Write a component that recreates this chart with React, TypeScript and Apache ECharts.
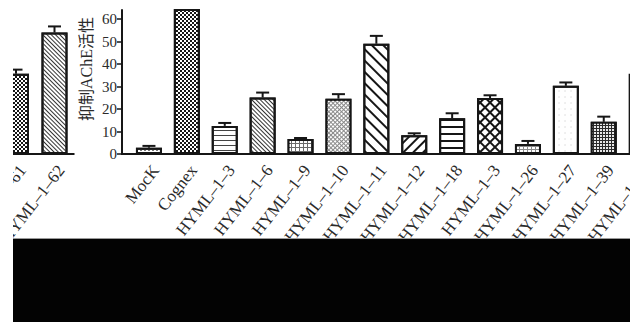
import React, { useEffect, useRef } from "react";
import * as echarts from "echarts";

// ---- data ----
const categories = [
  "MocK",
  "Cognex",
  "HYML–1–3",
  "HYML–1–6",
  "HYML–1–9",
  "HYML–1–10",
  "HYML–1–11",
  "HYML–1–12",
  "HYML–1–18",
  "HYML–1–3",
  "HYML–1–26",
  "HYML–1–27",
  "HYML–1–39",
  "HYML–1–40",
];
const means = [2.8, 85, 12.5, 25.1, 6.7, 24.6, 49.0, 8.3, 15.9, 24.9, 4.5, 30.3, 14.3, 35.7];
const errors = [0.8, 2.0, 1.3, 2.2, 0.4, 2.0, 3.5, 0.9, 2.2, 1.2, 1.3, 1.5, 2.3, 1.5];
const yTicks = [0, 10, 20, 30, 40, 50, 60];
const yAxisName = "抑制AChE活性";

const leftCategories = ["HYML–1–61", "HYML–1–62"];
const leftMeans = [35.7, 54.0];
const leftErrors = [1.8, 2.7];

// ---- styles ----
const SERIF = "'Liberation Serif', 'Times New Roman', serif";
const INK = "#161616";
const TXT = "#2a2a2a";
const GRID_LEFT = 130;
const Y_OFFSET = 8;

type Fill = { bg: string; decal: any };

const stripes = (w: number, gap: number, rot: number, color = INK): Fill => ({
  bg: "#fff",
  decal: { symbol: "rect", symbolSize: 1, dashArrayX: [1, 0], dashArrayY: [w, gap], rotation: rot, color },
});
const squares = (s: number, g: number, rot: number, color: string, bg: string): Fill => ({
  bg,
  decal: { symbol: "rect", symbolSize: 1, dashArrayX: [s, g], dashArrayY: [s, g], rotation: rot, color },
});
const checker: Fill = {
  bg: "#fff",
  decal: {
    symbol: "rect",
    symbolSize: 1,
    dashArrayX: [
      [2, 2],
      [0, 2, 2, 0],
    ],
    dashArrayY: [2, 0],
    color: INK,
  },
};
const BACK = Math.PI / 4; // "\\\" hatch
const FWD = -Math.PI / 4; // "///" hatch

const fills: Fill[] = [
  { bg: "#fff", decal: { symbol: "rect", symbolSize: 1, dashArrayX: [2, 1.5], dashArrayY: [1, 1.5], color: "#777" } },
  checker,
  stripes(1, 3.3, 0, "#444"),
  stripes(1, 1.6, BACK, "#333"),
  squares(3, 1, 0, "#fff", "#6a6a6a"),
  squares(2, 1, Math.PI / 4, "#fff", "#8a8a8a"),
  stripes(1.6, 6, BACK),
  stripes(1.6, 4.5, FWD),
  stripes(1.6, 5, 0),
  squares(4.5, 1.5, Math.PI / 4, "#fff", INK),
  { bg: "#8a8a8a", decal: { symbol: "rect", symbolSize: 1, dashArrayX: [3, 1], dashArrayY: [2, 1], color: "#fff" } },
  { bg: "#fff", decal: { symbol: "circle", symbolSize: 0.6, dashArrayX: [2, 4], dashArrayY: [2, 4], color: "#d0d0d0" } },
  squares(1.5, 1, 0, "#e8e8e8", "#2a2a2a"),
  { bg: "#fff", decal: null },
];
const leftFills: Fill[] = [checker, stripes(1, 1.6, BACK, "#333")];

const errorSeries = (vals: number[], errs: number[]) => ({
  type: "custom",
  clip: true,
  z: 5,
  data: vals.map((v, i) => [i, v, errs[i]]),
  encode: { x: 0, y: 1 },
  renderItem: (_p: any, api: any) => {
    const x = api.value(0);
    const v = api.value(1);
    const e = api.value(2);
    const base = api.coord([x, v]);
    const top = api.coord([x, v + e]);
    const hw = 6.5;
    const st = { stroke: INK, lineWidth: 2 };
    return {
      type: "group",
      children: [
        { type: "line", shape: { x1: base[0], y1: base[1], x2: top[0], y2: top[1] }, style: st },
        { type: "line", shape: { x1: top[0] - hw, y1: top[1], x2: top[0] + hw, y2: top[1] }, style: st },
      ],
    };
  },
});

const xAxisCommon = (cats: string[]) => ({
  type: "category",
  data: cats,
  axisLine: { lineStyle: { color: INK, width: 2 } },
  axisTick: { alignWithLabel: true, length: 5, lineStyle: { color: INK, width: 1.5 } },
  axisLabel: {
    interval: 0,
    rotate: 52,
    margin: 8,
    verticalAlign: "top",
    fontFamily: SERIF,
    fontSize: 17,
    color: TXT,
  },
});

const yAxisCommon = (show: boolean) => ({
  type: "value",
  min: 0,
  max: 64,
  interval: 10,
  show,
  offset: Y_OFFSET,
  splitLine: { show: false },
  axisLine: { show: true, lineStyle: { color: INK, width: 2 } },
  axisTick: { show: true, length: 5, customValues: yTicks, lineStyle: { color: INK, width: 1.5 } },
  axisLabel: { margin: 5, customValues: yTicks, fontFamily: SERIF, fontSize: 15, color: TXT },
});

const barSeries = (vals: number[], f: Fill[]) => ({
  type: "bar",
  barWidth: 26,
  clip: true,
  z: 2,
  data: vals.map((v, i) => ({
    value: v,
    itemStyle: f[i].decal ? { color: f[i].bg, decal: f[i].decal } : { color: f[i].bg },
  })),
  itemStyle: { color: "#fff", borderColor: INK, borderWidth: 2 },
});

export default function App() {
  const mainRef = useRef<HTMLDivElement>(null);
  const leftRef = useRef<HTMLDivElement>(null);

  useEffect(() => {
    const main = echarts.init(mainRef.current!, null, { renderer: "svg" });
    main.setOption({
      animation: false,
      backgroundColor: "transparent",
      grid: { left: GRID_LEFT, right: 19.4, top: 10, bottom: 168, containLabel: false, outerBoundsMode: "none" },
      xAxis: xAxisCommon(categories),
      yAxis: yAxisCommon(true),
      series: [barSeries(means, fills), errorSeries(means, errors)],
    });
    // x-axis baseline continues to the offset y-axis
    const y0 = main.convertToPixel({ yAxisIndex: 0 }, 0) as number;
    main.setOption({
      graphic: [
        {
          type: "text",
          x: 86,
          y: 69,
          rotation: Math.PI / 2,
          style: {
            text: yAxisName,
            fontFamily: "'Liberation Serif', 'Noto Sans CJK SC', serif",
            fontSize: 16,
            fill: TXT,
            align: "center",
            verticalAlign: "middle",
          },
        },
        {
          type: "line",
          shape: { x1: GRID_LEFT - Y_OFFSET - 1, y1: y0, x2: GRID_LEFT + 1, y2: y0 },
          style: { stroke: INK, lineWidth: 2 },
        },
      ],
    });

    // neighbouring panel, cut by the left edge of the scan
    const left = echarts.init(leftRef.current!, null, { renderer: "svg" });
    left.setOption({
      animation: false,
      backgroundColor: "transparent",
      grid: { left: -16.25, right: 39.25, top: 10, bottom: 84, containLabel: false, outerBoundsMode: "none" },
      xAxis: xAxisCommon(leftCategories),
      yAxis: yAxisCommon(false),
      series: [barSeries(leftMeans, leftFills), errorSeries(leftMeans, leftErrors)],
    });

    return () => {
      main.dispose();
      left.dispose();
    };
  }, []);

  return (
    <div
      style={{
        position: "fixed",
        left: 0,
        top: 0,
        width: 630,
        height: 322,
        overflow: "hidden",
        background: "#fff",
      }}
    >
      <div
        ref={mainRef}
        style={{ position: "absolute", left: 0, top: 0, width: 680, height: 322 }}
      />
      <div
        ref={leftRef}
        style={{ position: "absolute", left: 13, top: 0, width: 100, height: 238, overflow: "hidden" }}
      />
      <div
        style={{
          position: "absolute",
          left: 13,
          top: 238,
          width: 617,
          height: 84,
          background: "#030303",
          borderTop: "1px solid #9a9a9a",
          boxSizing: "border-box",
        }}
      />
    </div>
  );
}
